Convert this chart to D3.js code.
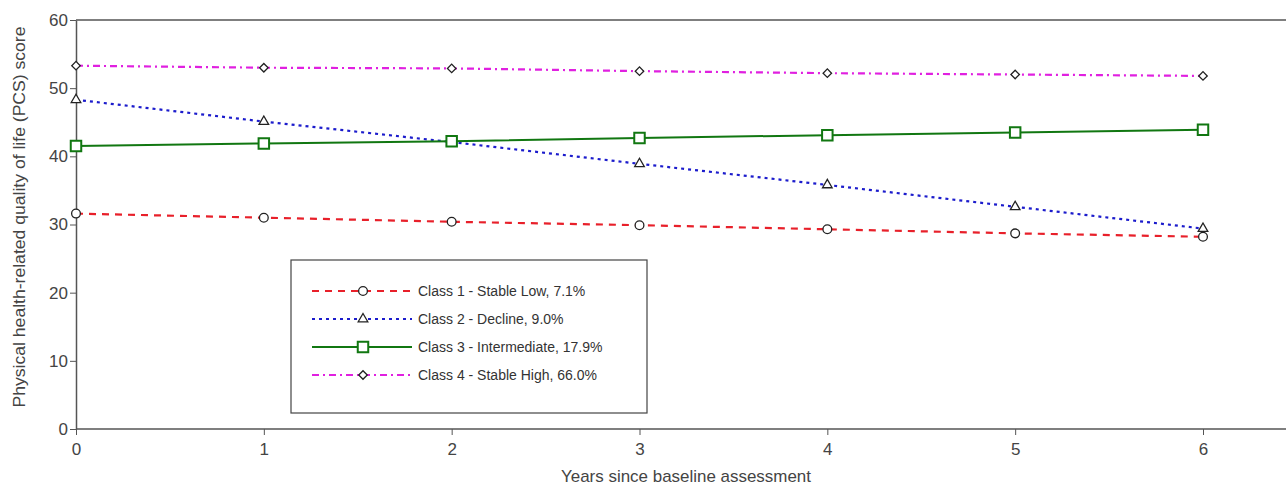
<!DOCTYPE html>
<html><head><meta charset="utf-8">
<script src="https://cdn.jsdelivr.net/npm/d3@7"></script>
<style>body{margin:0;background:#fff}svg{display:block}text{font-family:"Liberation Sans",Arial,sans-serif}</style>
</head><body><svg id="c" width="1286" height="486"></svg>
<script>
const years = [0,1,2,3,4,5,6];
const yTicks = [0,10,20,30,40,50,60];
const class1 = [31.6,31.0,30.4,29.9,29.3,28.7,28.2];
const class2 = [48.3,45.1,42.1,38.9,35.8,32.6,29.4];
const class3 = [41.5,41.9,42.2,42.7,43.1,43.5,43.9];
const class4 = [53.3,53.0,52.9,52.5,52.2,52.0,51.8];
const seriesNames = ["Class 1 - Stable Low, 7.1%","Class 2 - Decline, 9.0%","Class 3 - Intermediate, 17.9%","Class 4 - Stable High, 66.0%"];

const series = [
  {name:seriesNames[0], values:class1, color:"#e8202a", dash:"7,6", sym:"circle", mstroke:"#222", size:60},
  {name:seriesNames[1], values:class2, color:"#1c1ccc", dash:"3,4", sym:"triangle", mstroke:"#222", size:40},
  {name:seriesNames[2], values:class3, color:"#117711", dash:null, sym:"square", mstroke:"#117711", size:110},
  {name:seriesNames[3], values:class4, color:"#e020e0", dash:"7,4,2,4", sym:"diamond", mstroke:"#222", size:36}
];

const svg = d3.select("#c");
const x = d3.scaleLinear().domain([0,6]).range([76,1203]);
const y = d3.scaleLinear().domain([0,60]).range([429,20]);
const right = 1286;
const axisColor = "#555";

svg.append("line").attr("x1",76).attr("x2",right).attr("y1",y(60)).attr("y2",y(60)).attr("stroke",axisColor).attr("stroke-width",1.5);

const xa = svg.append("g").attr("transform",`translate(0,${y(0)})`)
  .call(d3.axisBottom(x).tickValues(years).tickFormat(d3.format("d")).tickSize(6).tickSizeOuter(0));
xa.select(".domain").remove();
xa.append("line").attr("x1",76).attr("x2",right).attr("stroke",axisColor).attr("stroke-width",1.5);
const ya = svg.append("g").attr("transform",`translate(76,0)`)
  .call(d3.axisLeft(y).tickValues(yTicks).tickSize(6).tickSizeOuter(0));
ya.select(".domain").attr("stroke",axisColor).attr("stroke-width",1.5);
[xa,ya].forEach(a=>{
  a.selectAll(".tick line").attr("stroke",axisColor);
  a.selectAll(".tick text").attr("fill","#444").style("font-size","17px");
});
xa.selectAll(".tick text").attr("dy","1.0em");
ya.selectAll(".tick text").attr("dx","0.05em");

svg.append("text").attr("x",686).attr("y",482).attr("text-anchor","middle").attr("fill","#444")
  .style("font-size","17px").attr("textLength",250).attr("lengthAdjust","spacingAndGlyphs").text("Years since baseline assessment");
svg.append("text").attr("transform","translate(25,217) rotate(-90)").attr("text-anchor","middle").attr("fill","#444")
  .style("font-size","17px").attr("textLength",381).attr("lengthAdjust","spacingAndGlyphs").text("Physical health-related quality of life (PCS) score");

const symMap = {circle:d3.symbolCircle, triangle:d3.symbolTriangle, square:d3.symbolSquare, diamond:d3.symbolSquare};
const rot = s => s.sym==="diamond" ? " rotate(45)" : "";
const line = d3.line().x((d,i)=>x(years[i])).y(d=>y(d));

series.forEach(s=>{
  svg.append("path").attr("d",line(s.values)).attr("fill","none").attr("stroke",s.color)
    .attr("stroke-width",s.sym==="square"?2:2.2).attr("stroke-dasharray",s.dash);
});
series.forEach(s=>{
  const g = svg.append("g");
  g.selectAll("path").data(s.values).join("path")
    .attr("transform",(d,i)=>`translate(${x(years[i])},${y(d)})${rot(s)}`)
    .attr("d",d3.symbol().type(symMap[s.sym]).size(s.size))
    .attr("fill","#fff").attr("stroke",s.mstroke).attr("stroke-width",s.sym==="square"?2:1.3);
});

const lg = svg.append("g");
lg.append("rect").attr("x",291).attr("y",260).attr("width",356).attr("height",153).attr("fill","#fff").attr("stroke","#444").attr("stroke-width",1.2);
const ly = d3.scalePoint().domain(seriesNames).range([291,375]);
series.forEach(s=>{
  const yy = ly(s.name);
  lg.append("line").attr("x1",312).attr("x2",412).attr("y1",yy).attr("y2",yy).attr("stroke",s.color).attr("stroke-width",2).attr("stroke-dasharray",s.dash);
  lg.append("path").attr("transform",`translate(363,${yy})${rot(s)}`).attr("d",d3.symbol().type(symMap[s.sym]).size(s.size))
    .attr("fill","#fff").attr("stroke",s.mstroke).attr("stroke-width",s.sym==="square"?2:1.3);
  lg.append("text").attr("x",418).attr("y",yy+5).attr("fill","#333").style("font-size","14px")
    .text(s.name);
});
</script></body></html>
